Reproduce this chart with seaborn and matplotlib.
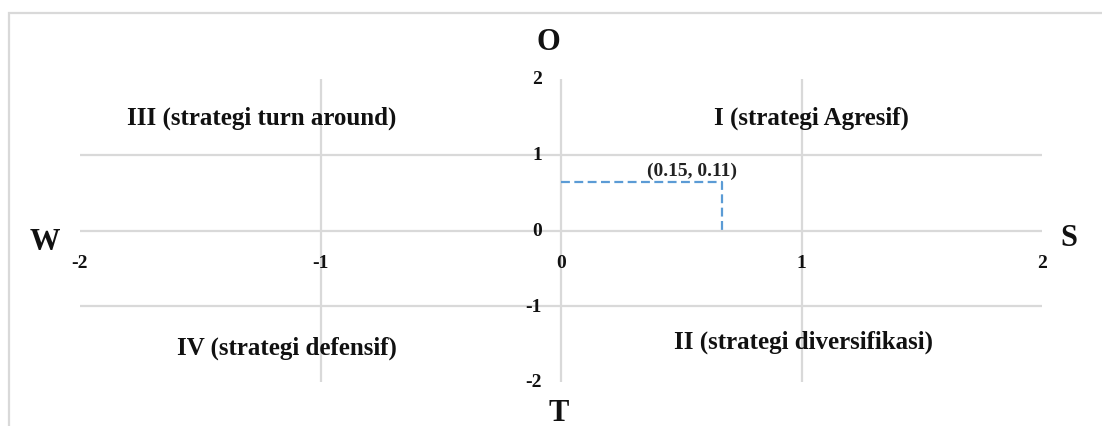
import matplotlib
matplotlib.use("Agg")
import matplotlib.pyplot as plt
import seaborn as sns
import pandas as pd
from matplotlib.patches import Rectangle

# ---- data ----
point_x = 0.67
point_y = 0.64
point_label = "(0.15, 0.11)"
tick_values = [-2, -1, 0, 1, 2]
tick_labels = ["-2", "-1", "0", "1", "2"]
grid_values = [-1, 0, 1]
quadrant_labels = ["I (strategi Agresif)", "II (strategi diversifikasi)",
                   "III (strategi turn around)", "IV (strategi defensif)"]
quadrant_x = [1.04, 1.01, -1.243, -1.14]
quadrant_y = [1.50, -1.46, 1.49, -1.54]
side_labels = ["O", "W", "S", "T"]
side_x = [-0.054, -2.145, 2.11, -0.01]
side_y = [2.50, -0.14, -0.09, -2.40]

sns.set_theme(style="white")
plt.rcParams["font.family"] = ["Liberation Serif", "DejaVu Serif"]

fig = plt.figure(figsize=(11.02, 4.27), dpi=100)
# outer frame
fig.patches.append(Rectangle((9 / 1102, -0.2), 1.2, (427 - 14) / 427 + 0.2,
                             transform=fig.transFigure, fill=False,
                             edgecolor="#d9d9d9", linewidth=1.6, zorder=0))

ax = fig.add_axes([80 / 1102, 44 / 427, 962 / 1102, 303 / 427])
ax.set_xlim(-2, 2)
ax.set_ylim(-2, 2)
for s in ax.spines.values():
    s.set_visible(False)
ax.set_xticks(grid_values)
ax.set_yticks(grid_values)
ax.tick_params(length=0, labelbottom=False, labelleft=False)
ax.grid(True, color="#d9d9d9", linewidth=1.6)
ax.set_facecolor("none")

# dashed guide to the point
df = pd.DataFrame({"x": [0, point_x, point_x], "y": [point_y, point_y, 0]})
sns.lineplot(data=df, x="x", y="y", sort=False, ax=ax, color="#5b9bd5",
             linewidth=1.6, linestyle=(0, (4, 2)), estimator=None)
ax.set_xlabel("")
ax.set_ylabel("")

ax.text(point_x - 0.125, point_y + 0.15, point_label, ha="center", va="center",
        fontsize=14, fontweight="bold", color="#222222")

# tick labels at the origin
for v, lab in zip(tick_values, tick_labels):
    ax.text(-0.08, v, lab, ha="right", va="center", fontsize=14,
            fontweight="bold", color="#111111")
    ax.text(v, -0.42, lab, ha="center", va="center", fontsize=14,
            fontweight="bold", color="#111111")

for lab, x, y in zip(quadrant_labels, quadrant_x, quadrant_y):
    ax.text(x, y, lab, ha="center", va="center", fontsize=18,
            fontweight="bold", color="#111111")

for lab, x, y in zip(side_labels, side_x, side_y):
    ax.text(x, y, lab, ha="center", va="center", fontsize=22,
            fontweight="bold", color="#111111", clip_on=False)

fig.savefig("out.png", dpi=100, facecolor="white")
